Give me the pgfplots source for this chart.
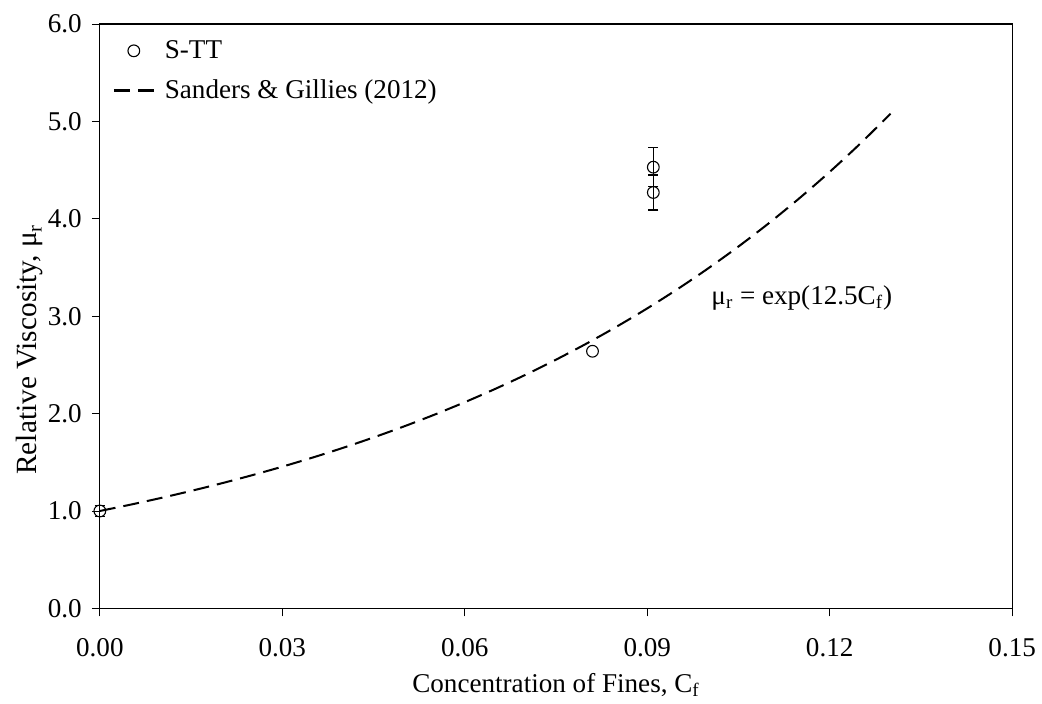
\documentclass[border=0pt]{standalone}
\usepackage{pgfplots}
\pgfplotsset{compat=1.18}
\usepackage{fontspec}
\setmainfont{Liberation Serif}
\newcommand{\lbl}{\fontsize{14.8}{17}\selectfont}
\pgfplotsset{
  legmark/.style={legend image code/.code={\draw[##1, mark repeat=2, mark phase=2] plot coordinates {(0pt,0pt) (10.9pt,0pt) (21.8pt,0pt)};}},
  legdash/.style={legend image code/.code={\draw[##1, line width=1.5pt, dash pattern=on 8.6pt off 4.6pt] (0pt,0pt) -- (21.8pt,0pt);}},
}
\begin{document}
\begin{tikzpicture}
\begin{axis}[
  scale only axis,
  width=498pt, height=319pt,
  xmin=0, xmax=0.15, ymin=0, ymax=6,
  xtick={0,0.03,0.06,0.09,0.12,0.15},
  ytick={0,1,...,6},
  tick align=outside,
  major tick length=4.4pt,
  every tick/.style={black, line width=0.5pt},
  axis line style={line width=0.6pt},
  xtick pos=bottom, ytick pos=left,
  x tick label style={yshift=-8.5pt, /pgf/number format/.cd, fixed, fixed zerofill, precision=2, assume math mode=true},
  y tick label style={xshift=-2pt, /pgf/number format/.cd, fixed, fixed zerofill, precision=1, assume math mode=true},
  scaled x ticks=false,
  tick label style={font=\lbl},
  xlabel={Concentration of Fines, C\textsubscript{f}},
  ylabel={Relative Viscosity, μ\textsubscript{r}},
  xlabel style={font=\lbl, at={(axis description cs:0.5,0)}, anchor=base, yshift=-46pt},
  ylabel style={font=\fontsize{16}{18}\selectfont, at={(axis description cs:-0.069,0.443)}, anchor=base},
  legend style={draw=none, fill=none, font=\lbl, at={(axis description cs:0,1)}, anchor=north west,
    xshift=6.7pt, yshift=-7.3pt, inner sep=0pt,
    nodes={inner sep=1.5pt}, row sep=7pt, legend cell align=left,
    /tikz/every odd column/.append style={column sep=3.8pt}},
  clip=false
]
\addplot[only marks, mark=o, mark size=3.2pt, line width=0.6pt, legmark,
  error bars/.cd, y dir=both, y explicit,
  error bar style={line width=0.6pt}, error mark options={rotate=90, mark size=2.8pt, line width=0.6pt}]
  coordinates {
  (0,1.0) +- (0,0.06)
  (0.091,4.27) +- (0,0.18)
  (0.091,4.53) +- (0,0.20)
};
\addlegendentry{S-TT}
\addplot[forget plot, only marks, mark=o, mark size=3.2pt, line width=0.6pt] coordinates {(0.081,2.64)};
\addplot[black, line width=1.1pt, dash pattern=on 8.7pt off 4.4pt, smooth, legdash] coordinates {
(0,1.0000) (0.005,1.0645) (0.01,1.1331) (0.015,1.2062) (0.02,1.2840) (0.025,1.3668)
(0.03,1.4550) (0.035,1.5488) (0.04,1.6487) (0.045,1.7551) (0.05,1.8682) (0.055,1.9887)
(0.06,2.1170) (0.065,2.2535) (0.07,2.3989) (0.075,2.5536) (0.08,2.7183) (0.085,2.8936)
(0.09,3.0802) (0.095,3.2789) (0.10,3.4903) (0.105,3.7154) (0.11,3.9551) (0.115,4.2102)
(0.12,4.4817) (0.125,4.7707) (0.13,5.0784)
};
\addlegendentry{Sanders \& Gillies (2012)}
\node[anchor=west, font=\lbl, inner sep=0pt] at (axis cs:0.1005,3.19) {μ\textsubscript{r} = exp(12.5C\textsubscript{f})};
\coordinate (sw) at (rel axis cs:0,0);
\coordinate (ne) at (rel axis cs:1,1);
\end{axis}
\path ([xshift=-54.5pt,yshift=-49.6pt]sw) rectangle ([xshift=15.8pt,yshift=13.1pt]ne);
\end{tikzpicture}
\end{document}
